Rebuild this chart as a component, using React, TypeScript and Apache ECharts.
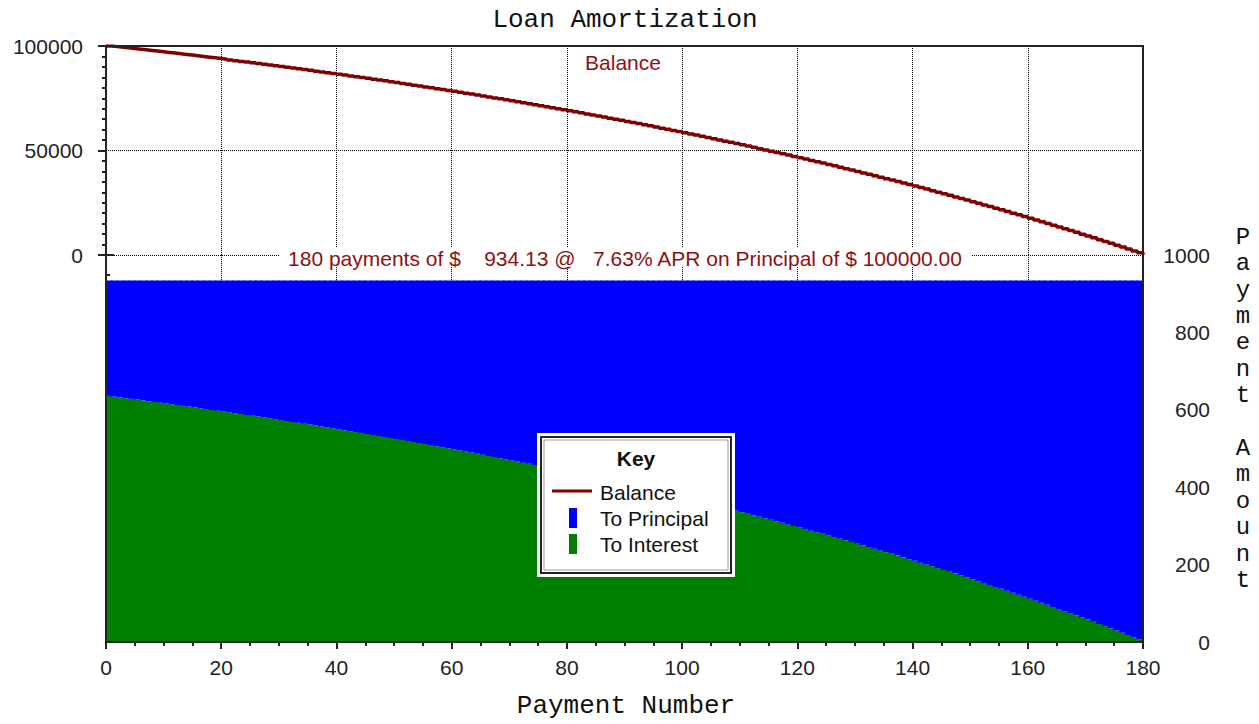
import React, { useEffect, useRef } from "react";
import * as echarts from "echarts";

const TITLE = "Loan Amortization";
const X_NAME = "Payment Number";
const Y2_NAME = "Payment Amount";
const LOAN = 100000;
const PAYMENT = 934.13;
const N_PAYMENTS = 180;
const APR = 7.63;

// interest part of each monthly payment (payments 1..180)
const TO_INTEREST: number[] = [
  635.83, 633.93, 632.02, 630.1, 628.17, 626.22, 624.27, 622.3, 620.31, 618.32,
  616.31, 614.29, 612.26, 610.21, 608.15, 606.08, 603.99, 601.89, 599.78, 597.65,
  595.52, 593.37, 591.2, 589.02, 586.82, 584.62, 582.39, 580.16, 577.91, 575.64,
  573.36, 571.07, 568.76, 566.43, 564.1, 561.74, 559.38, 556.99, 554.59, 552.18,
  549.75, 547.31, 544.85, 542.37, 539.88, 537.37, 534.85, 532.31, 529.76, 527.19,
  524.6, 522.0, 519.38, 516.74, 514.08, 511.41, 508.73, 506.02, 503.3, 500.56,
  497.8, 495.03, 492.23, 489.42, 486.6, 483.75, 480.89, 478.0, 475.1, 472.19,
  469.25, 466.29, 463.32, 460.33, 457.31, 454.28, 451.23, 448.16, 445.07, 441.96,
  438.83, 435.68, 432.51, 429.32, 426.11, 422.88, 419.63, 416.36, 413.07, 409.75,
  406.42, 403.06, 399.69, 396.29, 392.87, 389.43, 385.96, 382.48, 378.97, 375.44,
  371.89, 368.31, 364.72, 361.1, 357.45, 353.79, 350.1, 346.38, 342.65, 338.88,
  335.1, 331.29, 327.46, 323.6, 319.72, 315.81, 311.88, 307.92, 303.94, 299.94,
  295.91, 291.85, 287.77, 283.66, 279.52, 275.36, 271.17, 266.96, 262.71, 258.44,
  254.15, 249.83, 245.47, 241.1, 236.69, 232.26, 227.79, 223.3, 218.78, 214.23,
  209.65, 205.04, 200.41, 195.74, 191.05, 186.32, 181.57, 176.78, 171.97, 167.12,
  162.25, 157.34, 152.4, 147.43, 142.43, 137.4, 132.33, 127.23, 122.1, 116.94,
  111.74, 106.51, 101.25, 95.95, 90.62, 85.26, 79.86, 74.43, 68.96, 63.46,
  57.93, 52.36, 46.75, 41.11, 35.43, 29.72, 23.97, 18.18, 12.36, 6.49,
];

const PAYMENT_NUMBERS = TO_INTEREST.map((_, i) => String(i + 1));
const TO_PRINCIPAL = TO_INTEREST.map((v) => +(PAYMENT - v).toFixed(2));

// remaining balance after each payment (0..180)
const BALANCE: number[][] = (() => {
  const out: number[][] = [[0, LOAN]];
  let b = LOAN;
  TO_PRINCIPAL.forEach((p, i) => {
    b = Math.max(0, b - p);
    out.push([i + 1, +b.toFixed(2)]);
  });
  return out;
})();

const SANS = "'Liberation Sans', Arial, sans-serif";
const MONO = "'Courier New', 'Liberation Mono', 'DejaVu Sans Mono', monospace";
const INK = "#222";
const MAROON = "#800000";
const TXT_RED = "#8e1010";
const BLUE = "#0000ff";
const GREEN = "#008000";
const TICK_FONT = 21;
const TEXT_FONT = 21;

const dotted = { show: true, lineStyle: { color: "#000", type: [1, 1] as any, width: 1 } };
const axisLineOn = { show: true, lineStyle: { color: INK, width: 2 } };
const plain = (v: number) => String(v);

export default function App() {
  const ref = useRef<HTMLDivElement>(null);
  useEffect(() => {
    if (!ref.current) return;
    const chart = echarts.init(ref.current, undefined, { renderer: "svg" });
    const annotation = `${N_PAYMENTS} payments of $    ${PAYMENT.toFixed(2)} @   ${APR.toFixed(2)}% APR on Principal of $ ${LOAN.toFixed(2)}`;
    const minorAxisCommon = {
      axisLine: { show: false },
      axisLabel: { show: false },
      splitLine: { show: false },
    };
    const option: any = {
      animation: false,
      backgroundColor: "#fff",
      grid: [
        { left: 106, top: 46, width: 1037, height: 209 },
        { left: 106, top: 255, width: 1037, height: 387 },
      ],
      xAxis: [
        {
          gridIndex: 0, type: "value", min: 0, max: N_PAYMENTS, interval: 20, position: "bottom",
          axisLine: { show: false }, axisTick: { show: false }, axisLabel: { show: false },
          splitLine: dotted,
        },
        {
          gridIndex: 1, type: "category", data: PAYMENT_NUMBERS, show: false, position: "bottom", offset: 0,
        },
        {
          gridIndex: 1, type: "value", min: 0, max: N_PAYMENTS, interval: 20, position: "bottom", offset: 0,
          axisLine: axisLineOn,
          axisTick: { show: true, length: 7, lineStyle: { color: INK, width: 2 } },
          axisLabel: { fontFamily: SANS, fontSize: TICK_FONT, color: INK, margin: 15, formatter: plain },
          splitLine: dotted,
        },
        {
          gridIndex: 1, type: "value", min: 0, max: N_PAYMENTS, interval: 5, position: "bottom", offset: 0,
          ...minorAxisCommon,
          axisTick: { show: true, length: 4, lineStyle: { color: INK, width: 2 } },
        },
      ],
      yAxis: [
        {
          gridIndex: 0, type: "value", min: 0, max: LOAN, interval: 50000, position: "left", offset: 0,
          axisLine: axisLineOn,
          axisTick: { show: true, length: 8, lineStyle: { color: INK, width: 2 } },
          axisLabel: { fontFamily: SANS, fontSize: TICK_FONT, color: INK, margin: 23, formatter: plain },
          splitLine: dotted,
        },
        {
          gridIndex: 0, type: "value", min: 0, max: LOAN, interval: 5000, position: "left", offset: 0,
          ...minorAxisCommon,
          axisTick: { show: true, length: 4, lineStyle: { color: INK, width: 2 } },
        },
        {
          gridIndex: 1, type: "value", min: 0, max: 1000, interval: 200, position: "right", offset: 0,
          axisLine: axisLineOn,
          axisTick: { show: true, length: 8, lineStyle: { color: INK, width: 2 } },
          axisLabel: { fontFamily: SANS, fontSize: TICK_FONT, color: INK, margin: 67, align: "right", formatter: plain },
          splitLine: { show: false },
        },
        {
          gridIndex: 1, type: "value", min: 0, max: 1000, interval: 50, position: "right", offset: 0,
          ...minorAxisCommon,
          axisTick: { show: true, length: 4, lineStyle: { color: INK, width: 2 } },
        },
      ],
      series: [
        {
          name: "Balance", type: "line", xAxisIndex: 0, yAxisIndex: 0, data: BALANCE,
          step: "end", showSymbol: false, symbol: "none",
          lineStyle: { color: MAROON, width: 3.5 }, z: 5,
        },
        {
          name: "To Interest", type: "bar", xAxisIndex: 1, yAxisIndex: 2, stack: "pay",
          data: TO_INTEREST, barWidth: 7,
          itemStyle: { color: GREEN },
        },
        {
          name: "To Principal", type: "bar", xAxisIndex: 1, yAxisIndex: 2, stack: "pay",
          data: TO_PRINCIPAL, barWidth: 7,
          itemStyle: { color: BLUE },
        },
      ],
      graphic: [
        {
          type: "rect", z: 50, silent: true,
          shape: { x: 106, y: 46, width: 1037, height: 596 },
          style: { fill: "rgba(0,0,0,0)", stroke: INK, lineWidth: 2 },
        },
        {
          type: "text", z: 60, x: 625, y: 20,
          style: { text: TITLE, fill: "#111", fontFamily: MONO, fontSize: 26, align: "center", verticalAlign: "middle" },
        },
        {
          type: "text", z: 60, x: 626, y: 706,
          style: { text: X_NAME, fill: "#111", fontFamily: MONO, fontSize: 26, align: "center", verticalAlign: "middle" },
        },
        {
          type: "text", z: 60, x: 1243, y: 224,
          style: {
            text: Y2_NAME.split("").join("\n"), fill: "#111", fontFamily: MONO, fontSize: 24,
            lineHeight: 26.4, align: "center", verticalAlign: "top",
          },
        },
        {
          type: "text", z: 60, x: 623, y: 62,
          style: { text: "Balance", fill: TXT_RED, fontFamily: SANS, fontSize: TEXT_FONT, align: "center", verticalAlign: "middle" },
        },
        {
          type: "rect", z: 60,
          shape: { x: 279, y: 247, width: 692, height: 20 },
          style: { fill: "#fff" },
        },
        {
          type: "text", z: 61, x: 625, y: 258,
          style: { text: annotation, fill: TXT_RED, fontFamily: SANS, fontSize: TEXT_FONT, align: "center", verticalAlign: "middle" },
        },
        // key box
        {
          type: "rect", z: 70,
          shape: { x: 537, y: 433, width: 198, height: 144 },
          style: { fill: "#fff" },
        },
        {
          type: "rect", z: 71,
          shape: { x: 541, y: 437, width: 190, height: 136 },
          style: { fill: "#fff", stroke: INK, lineWidth: 2 },
        },
        {
          type: "rect", z: 71,
          shape: { x: 544, y: 440, width: 184, height: 130 },
          style: { fill: "rgba(0,0,0,0)", stroke: "#999", lineWidth: 1 },
        },
        {
          type: "text", z: 72, x: 636, y: 458,
          style: { text: "Key", fill: "#111", fontFamily: SANS, fontWeight: "bold", fontSize: TEXT_FONT, align: "center", verticalAlign: "middle" },
        },
        {
          type: "line", z: 72,
          shape: { x1: 552, y1: 491, x2: 592, y2: 491 },
          style: { stroke: MAROON, lineWidth: 3 },
        },
        {
          type: "text", z: 72, x: 600, y: 492,
          style: { text: "Balance", fill: "#111", fontFamily: SANS, fontSize: TEXT_FONT, align: "left", verticalAlign: "middle" },
        },
        {
          type: "rect", z: 72,
          shape: { x: 569, y: 508, width: 8, height: 20 },
          style: { fill: BLUE },
        },
        {
          type: "text", z: 72, x: 600, y: 518,
          style: { text: "To Principal", fill: "#111", fontFamily: SANS, fontSize: TEXT_FONT, align: "left", verticalAlign: "middle" },
        },
        {
          type: "rect", z: 72,
          shape: { x: 569, y: 534, width: 8, height: 20 },
          style: { fill: GREEN },
        },
        {
          type: "text", z: 72, x: 600, y: 544,
          style: { text: "To Interest", fill: "#111", fontFamily: SANS, fontSize: TEXT_FONT, align: "left", verticalAlign: "middle" },
        },
      ],
    };
    chart.setOption(option);
    return () => chart.dispose();
  }, []);
  return (
    <div
      ref={ref}
      style={{ position: "fixed", left: 0, top: 0, width: 1259, height: 724, background: "#fff" }}
    />
  );
}
